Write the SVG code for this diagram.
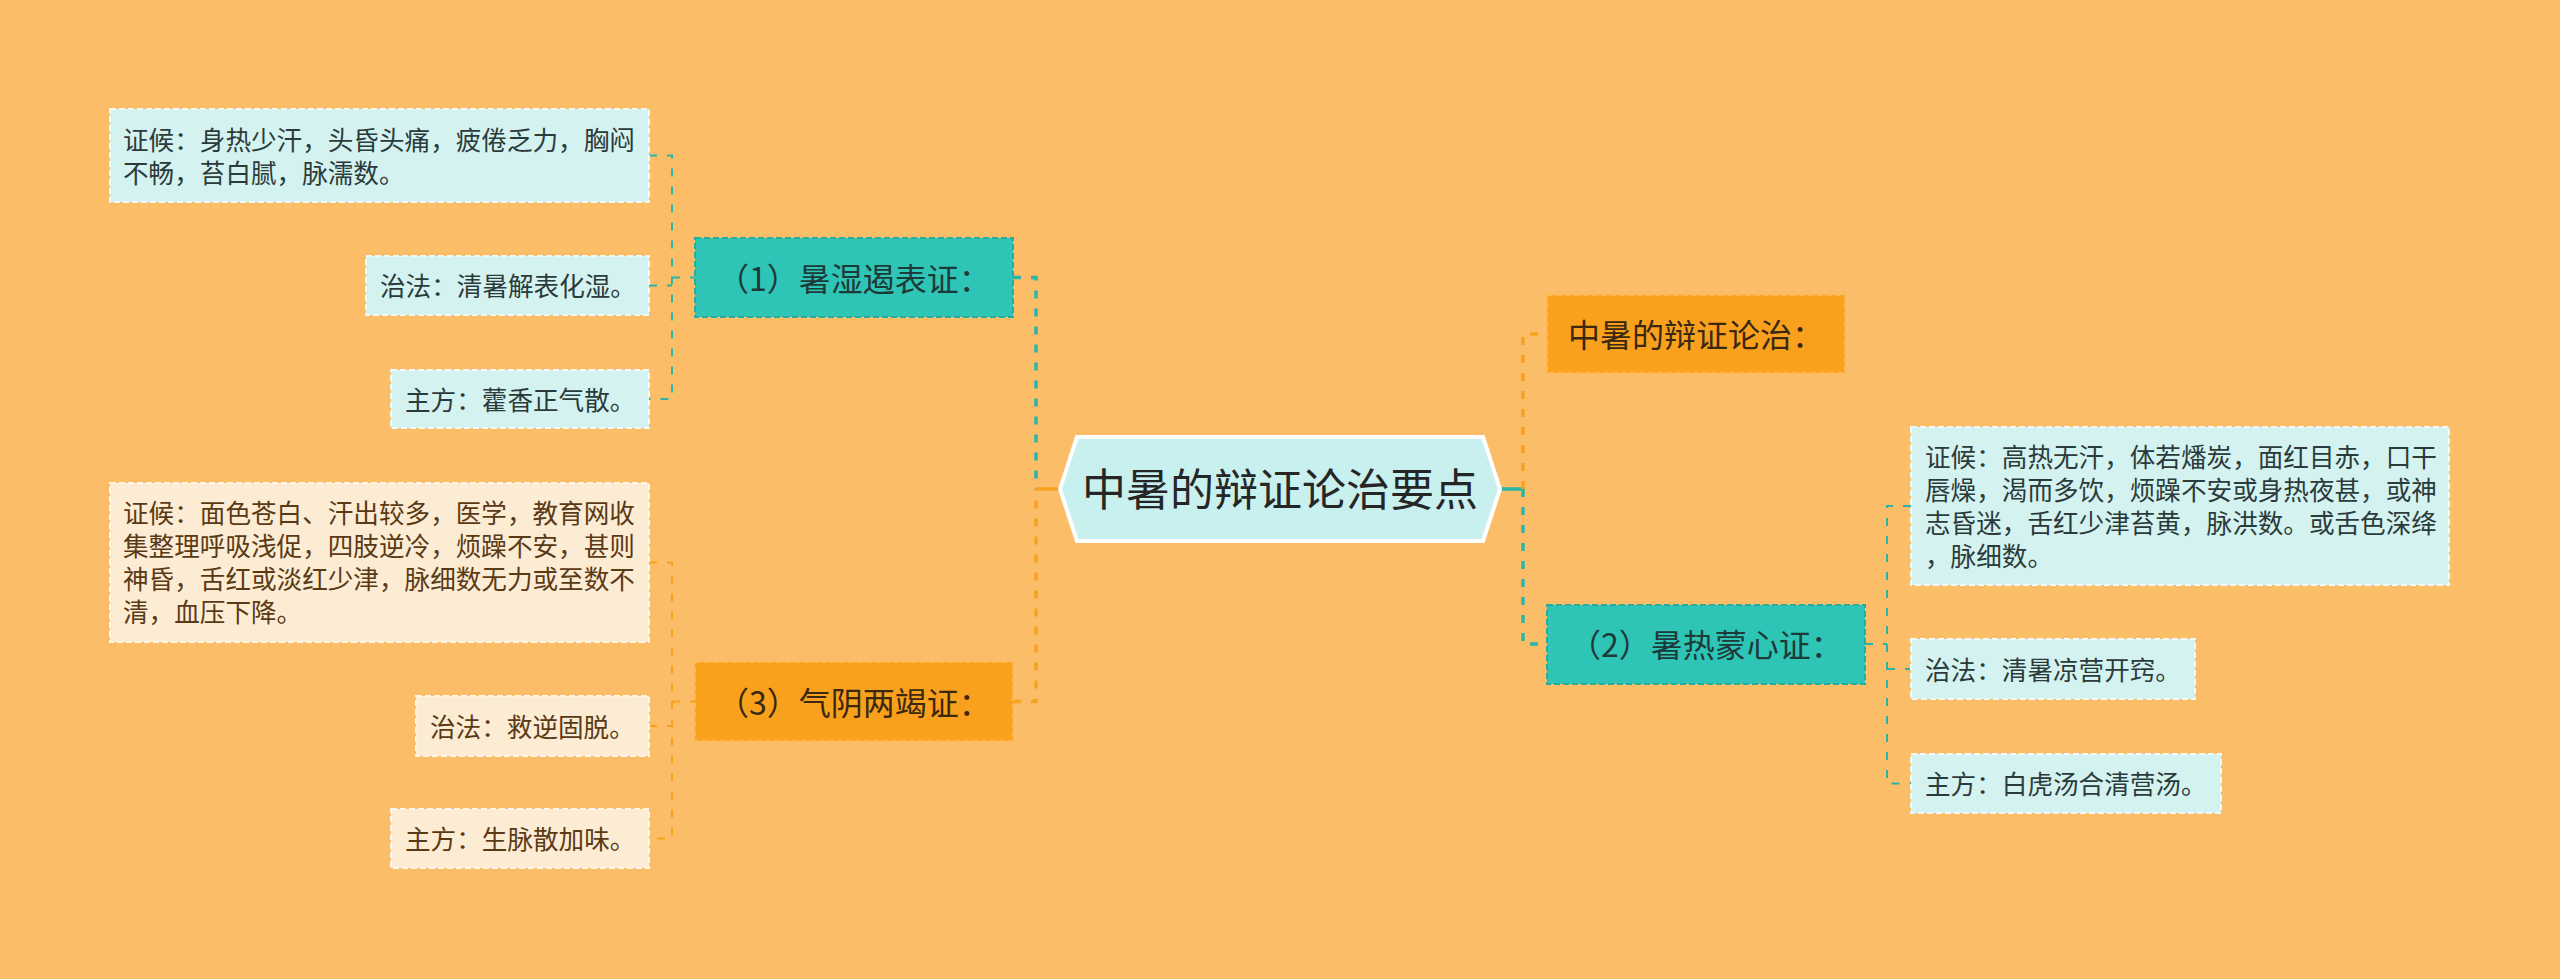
<svg xmlns="http://www.w3.org/2000/svg" width="2560" height="979" viewBox="0 0 2560 979">
<style>
text{font-family:"Microsoft YaHei","Noto Sans CJK SC","Noto Sans",sans-serif}
.leaf{font-size:25.6px}
.lc{fill:#d4f2f0;stroke:#eefaf9;stroke-width:2;stroke-dasharray:6 3}
.lo{fill:#fdecd4;stroke:#fff6ea;stroke-width:2;stroke-dasharray:6 3}
.tc{fill:#2b3a3a}
.to{fill:#5a3a14}
.nt{fill:#2ec4b6;stroke:#27ab9e;stroke-width:2;stroke-dasharray:6 3}
.no{fill:#f9a11d;stroke:#fdb94f;stroke-width:2;stroke-dasharray:6 3}
.node{font-size:32px;text-anchor:middle}
.ct{fill:none;stroke:#2bb5a7;stroke-width:2;stroke-dasharray:8 10}
.co{fill:none;stroke:#f7a21f;stroke-width:2;stroke-dasharray:8 10}
.mt{fill:none;stroke:#2bb5a7;stroke-width:3.5;stroke-dasharray:8 10}
.mo{fill:none;stroke:#f7a21f;stroke-width:3.5;stroke-dasharray:8 10}
</style>
<rect width="2560" height="979" fill="#fcbd68"/>
<g id="connectors">
<path class="ct" d="M649 155.5H672V399H649M649 285.5H672M672 277.5H695"/>
<path class="co" d="M649 562.5H672V838.5H649M649 726H672M672 701.5H695"/>
<path class="mt" d="M1013 277.5H1036V489"/>
<path class="mo" d="M1013 701.5H1036V489"/>
<path d="M1036 489H1060" stroke="#f7a21f" stroke-width="3.5" fill="none"/>
<path d="M1500 489H1523" stroke="#2bb5a7" stroke-width="3.5" fill="none"/>
<path class="mo" d="M1523 489V334H1547"/>
<path class="mt" d="M1523 489V644H1547"/>
<path class="ct" d="M1865 644H1887M1911 506H1887V783.5H1911M1887 669H1911"/>
</g>
<g id="center">
<polygon points="1060,489 1077,437 1483,437 1500,489 1483,541 1077,541" fill="#c8f0ee" stroke="#ffffff" stroke-width="4"/>
<text x="1280" y="506" font-size="44" text-anchor="middle" fill="#262626">中暑的辩证论治要点</text>
</g>
<g id="node1">
<rect class="nt" x="695" y="238" width="318" height="79"/>
<text class="node" x="854" y="290.5" fill="#1e3a38">（1）暑湿遏表证：</text>
</g>
<g id="leaf1a">
<rect class="lc" x="110" y="109" width="539" height="93"/>
<text class="leaf tc" x="123" y="149.5">证候：身热少汗，头昏头痛，疲倦乏力，胸闷</text>
<text class="leaf tc" x="123" y="182.5">不畅，苔白腻，脉濡数。</text>
</g>
<g id="leaf1b">
<rect class="lc" x="366" y="256" width="283" height="59"/>
<text class="leaf tc" x="380" y="296">治法：清暑解表化湿。</text>
</g>
<g id="leaf1c">
<rect class="lc" x="391" y="370" width="258" height="58"/>
<text class="leaf tc" x="405" y="409.5">主方：藿香正气散。</text>
</g>
<g id="node3">
<rect class="no" x="695" y="662" width="318" height="79"/>
<text class="node" x="854" y="714.5" fill="#3a2810">（3）气阴两竭证：</text>
</g>
<g id="leaf3a">
<rect class="lo" x="110" y="483" width="539" height="159"/>
<text class="leaf to" x="123" y="523">证候：面色苍白、汗出较多，医学，教育网收</text>
<text class="leaf to" x="123" y="556">集整理呼吸浅促，四肢逆冷，烦躁不安，甚则</text>
<text class="leaf to" x="123" y="589">神昏，舌红或淡红少津，脉细数无力或至数不</text>
<text class="leaf to" x="123" y="622">清，血压下降。</text>
</g>
<g id="leaf3b">
<rect class="lo" x="416" y="696" width="233" height="60"/>
<text class="leaf to" x="430" y="736.5">治法：救逆固脱。</text>
</g>
<g id="leaf3c">
<rect class="lo" x="391" y="809" width="258" height="59"/>
<text class="leaf to" x="405" y="849">主方：生脉散加味。</text>
</g>
<g id="node0">
<rect class="no" x="1547" y="295" width="298" height="78"/>
<text class="node" x="1696" y="347" fill="#3a2810">中暑的辩证论治：</text>
</g>
<g id="node2">
<rect class="nt" x="1547" y="605" width="318" height="79"/>
<text class="node" x="1706" y="657" fill="#1e3a38">（2）暑热蒙心证：</text>
</g>
<g id="leaf2a">
<rect class="lc" x="1911" y="427" width="538" height="158"/>
<text class="leaf tc" x="1925" y="467">证候：高热无汗，体若燔炭，面红目赤，口干</text>
<text class="leaf tc" x="1925" y="500">唇燥，渴而多饮，烦躁不安或身热夜甚，或神</text>
<text class="leaf tc" x="1925" y="533">志昏迷，舌红少津苔黄，脉洪数。或舌色深绛</text>
<text class="leaf tc" x="1925" y="566">，脉细数。</text>
</g>
<g id="leaf2b">
<rect class="lc" x="1911" y="639" width="284" height="60"/>
<text class="leaf tc" x="1925" y="679.5">治法：清暑凉营开窍。</text>
</g>
<g id="leaf2c">
<rect class="lc" x="1911" y="754" width="310" height="59"/>
<text class="leaf tc" x="1925" y="794">主方：白虎汤合清营汤。</text>
</g>
</svg>
